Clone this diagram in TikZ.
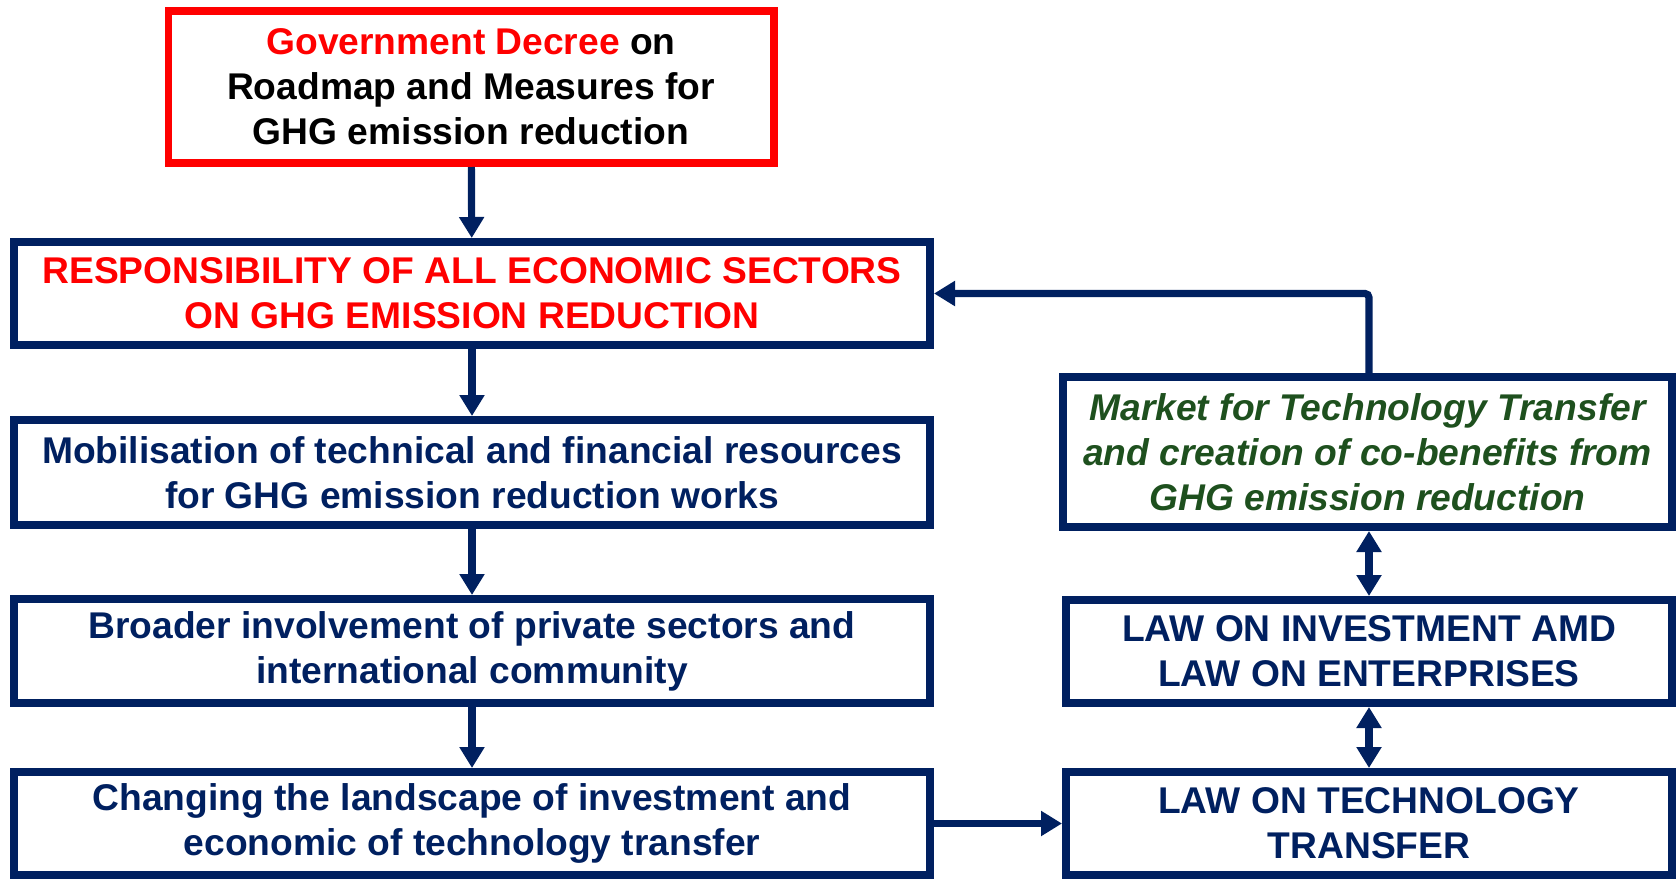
\documentclass[tikz,border=0pt]{standalone}
\usepackage{fontspec}
\setmainfont{Liberation Sans}
\usepackage{xcolor}
\usetikzlibrary{arrows.meta}
\definecolor{navy}{RGB}{0,32,96}
\definecolor{leafgreen}{RGB}{30,80,30}

\begin{document}
\begin{tikzpicture}[x=0.5pt, y=-0.5pt,
        box/.style={draw=navy, line width=3.8pt, fill=white, align=center, inner sep=0pt,
            text=navy, font=\fontsize{18.6}{22.5}\selectfont\bfseries},
        link/.style={navy, line width=3.6pt, -{Triangle[length=10.5pt, width=12pt]}},
        both/.style={link, {Triangle[length=10.5pt, width=12pt]}-{Triangle[length=10.5pt, width=12pt]}}]
        \useasboundingbox (0,0) rectangle (1678,879);
        % left column
        \node[box, draw=red, text=black, minimum width=302.7pt, minimum height=76.2pt] (decree) at (471,87)
            {{\color{red}Government Decree} on\\Roadmap and Measures for\\GHG emission reduction};
        \node[box, text=red, minimum width=458.2pt, minimum height=51.7pt] (resp) at (472,293.5)
            {RESPONSIBILITY OF ALL ECONOMIC SECTORS\\ON GHG EMISSION REDUCTION};
        \node[box, minimum width=458.2pt, minimum height=52.7pt] (mobil) at (472,472.5)
            {Mobilisation of technical and financial resources\\for GHG emission reduction works};
        \node[box, minimum width=458.2pt, minimum height=52.2pt] (broad) at (472,651)
            {Broader involvement of private sectors and\\international community};
        \node[box, minimum width=458.2pt, minimum height=51.7pt] (change) at (472,823.5)
            {Changing the landscape of investment and\\economic of technology transfer};
        % right column
        \node[box, text=leafgreen, font=\fontsize{18.6}{22.5}\selectfont\bfseries\itshape,
            minimum width=304.7pt, minimum height=75.2pt] (market) at (1367.5,452)
            {Market for Technology Transfer\\and creation of co-benefits from\\GHG emission reduction};
        \node[box, minimum width=303.2pt, minimum height=51.7pt] (lawinv) at (1369,651.5)
            {LAW ON INVESTMENT AMD\\LAW ON ENTERPRISES};
        \node[box, minimum width=303.2pt, minimum height=51.7pt] (lawtech) at (1369,823.5)
            {LAW ON TECHNOLOGY\\TRANSFER};
        % connectors
        \draw[link] (decree) -- (resp);
        \draw[link] (resp) -- (mobil);
        \draw[link] (mobil) -- (broad);
        \draw[link] (broad) -- (change);
        \draw[link] (change.east) -- (change.east -| lawtech.west);
        \draw[both] (lawtech.north) -- (lawtech.north |- lawinv.south);
        \draw[both] (lawinv.north) -- (lawinv.north |- market.south);
        \draw[link, rounded corners=2pt] (market.north -| lawinv.north) |- (resp.east);
\end{tikzpicture}
\end{document}
